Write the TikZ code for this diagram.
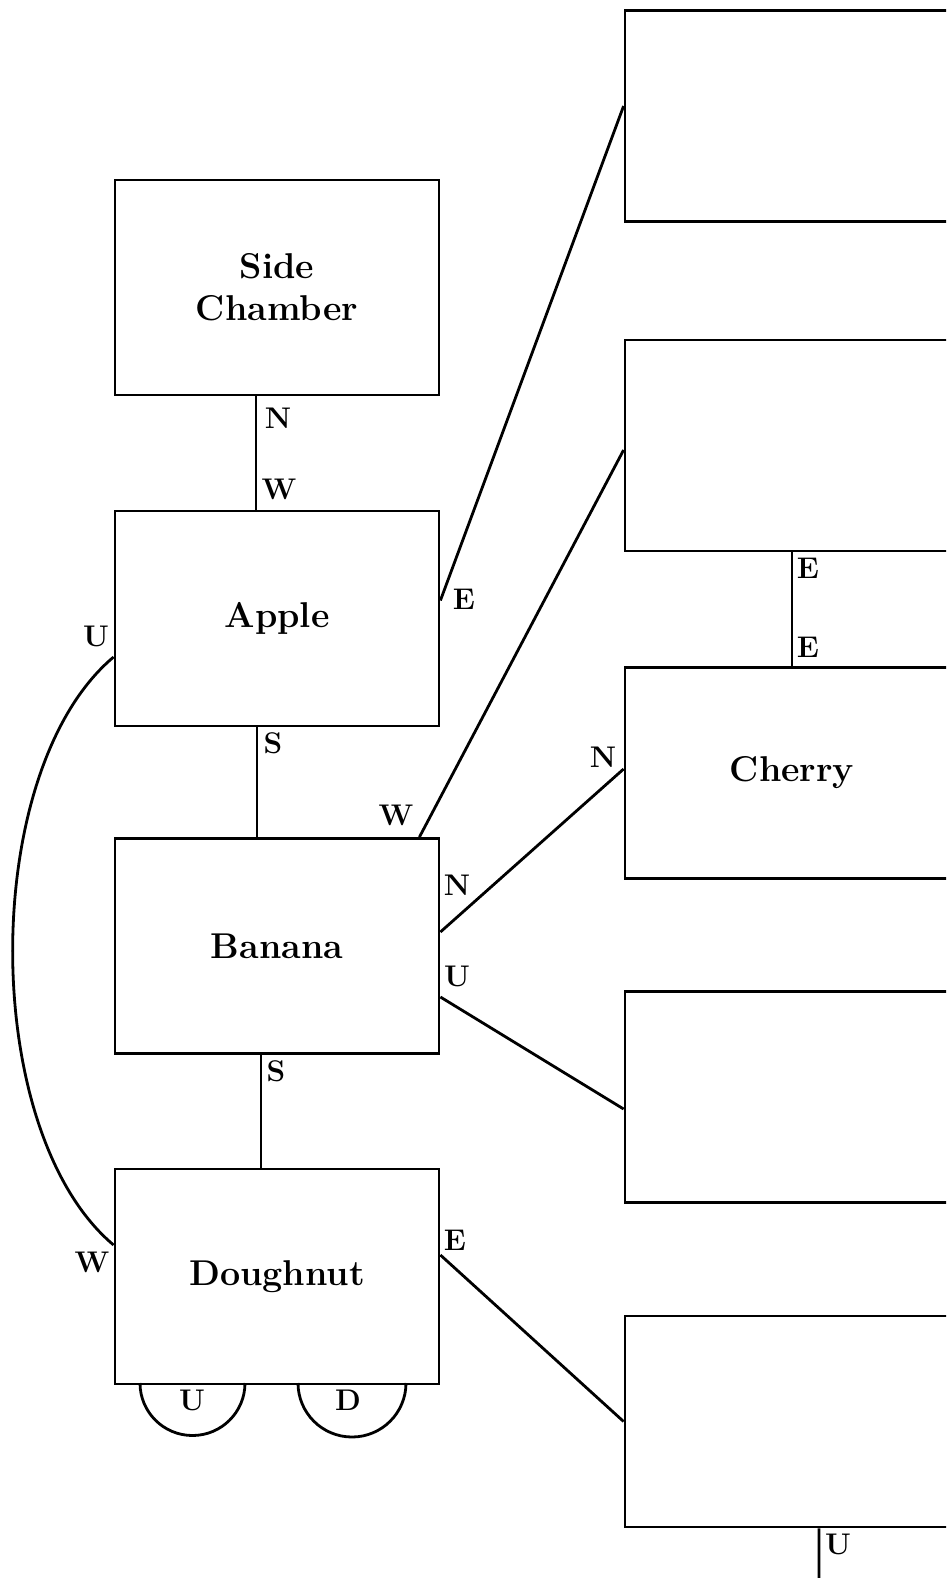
\documentclass[tikz,border=0pt]{standalone}
\usepackage{fontspec}
\begin{document}
\begin{tikzpicture}[x=1bp,y=-1bp,line width=2.8bp,
  room/.style={draw,black,minimum width=324bp,minimum height=215bp,inner sep=0pt,
    align=center,font=\fontsize{36}{42}\selectfont\bfseries},
  farroom/.style={room,minimum width=360bp,minimum height=211bp},
  door/.style={inner sep=0pt,font=\fontsize{30}{32}\selectfont\bfseries}]
\useasboundingbox (0,0) rectangle (946,1578);
\clip (0,0) rectangle (946,1578);
% rooms on the left
\node [room] (side) at (277,287.5) {Side\\Chamber};
\node [room] (apple) at (277,618.5) {Apple};
\node [room] (banana) at (277,946) {Banana};
\node [room] (doughnut) at (277,1276.5) {Doughnut};
% rooms on the right, cut by the edge
\node [farroom] (rooma) at (805,116) {};
\node [farroom] (roomb) at (805,445.5) {};
\node [farroom] (cherry) at (805,773) {\hspace*{-26bp}Cherry};
\node [farroom] (roomd) at (805,1097) {};
\node [farroom] (roome) at (805,1421.5) {};
\coordinate (below) at (819,1600);
% passages
\draw ([xshift=-21bp]side.south) -- ([xshift=-21bp]apple.north);
\draw ([xshift=-20bp]apple.south) -- ([xshift=-20bp]banana.north);
\draw ([xshift=-16bp]banana.south) -- ([xshift=-16bp]doughnut.north);
\draw ([yshift=18bp]apple.east) -- ([yshift=10bp]rooma.west);
\draw ([xshift=-21bp]banana.north east) -- ([yshift=-4.5bp]roomb.west);
\draw ([yshift=14bp]banana.east) -- ([yshift=4bp]cherry.west);
\draw ([yshift=-51bp]banana.east) -- ([yshift=-12bp]roomd.west);
\draw ([yshift=21.5bp]doughnut.east) -- (roome.west);
\draw ([xshift=-13bp]roomb.south) -- ([xshift=-13bp]cherry.north);
\draw ([xshift=14bp]roome.south) -- (below);
\draw ([yshift=-38.5bp]apple.west) .. controls (-21,770) and (-21,1132) .. ([yshift=31.5bp]doughnut.west);
% stairs under the doughnut
\draw (140,1383) arc[start angle=180,end angle=0,radius=52.5];
\draw (298,1383) arc[start angle=180,end angle=0,radius=54];
% door letters
\node [door] (n1) at (278,418) {N};
\node [door] (w1) at (279,489) {W};
\node [door] (s1) at (273,743) {S};
\node [door] (s2) at (276,1071) {S};
\node [door] (e1) at (464,599) {E};
\node [door] (w2) at (396,815) {W};
\node [door] (n2) at (457,885) {N};
\node [door] (n3) at (603,757) {N};
\node [door] (u1) at (457,976) {U};
\node [door] (e2) at (455,1240) {E};
\node [door] (e3) at (808,568) {E};
\node [door] (e4) at (808,647) {E};
\node [door] (u2) at (96,636) {U};
\node [door] (w3) at (92,1262) {W};
\node [door] (u3) at (192,1400) {U};
\node [door] (d1) at (348,1400) {D};
\node [door] (u4) at (838,1544) {U};
\end{tikzpicture}
\end{document}
